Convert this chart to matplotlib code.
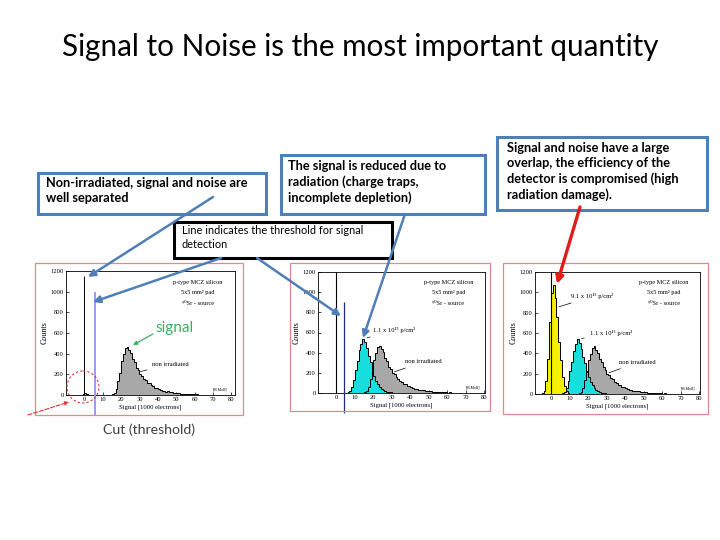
import numpy as np
import matplotlib.pyplot as plt
from matplotlib.patches import Rectangle, Circle

# ---- histogram data (counts per 1000-electron bin) ----
nonirr_edges = np.arange(15, 66)
nonirr_counts = [5, 22, 58, 135, 215, 330, 395, 455, 468, 435, 405, 345, 318, 262, 240,
                 200, 185, 155, 143, 120, 112, 92, 88, 72, 66, 55, 52, 43, 41, 33,
                 34, 26, 27, 20, 22, 15, 17, 12, 13, 9, 11, 7, 9, 5, 7, 4, 5, 3, 4, 2]

cyan_edges = np.arange(6, 32)
cyan_counts = [6, 22, 62, 128, 225, 318, 425, 488, 540, 505, 445, 362, 305, 225, 172,
               118, 88, 58, 42, 26, 20, 11, 9, 5, 4]

yellow_edges = np.arange(-5, 11)
yellow_counts = [6, 32, 125, 345, 705, 995, 1075, 940, 760, 515, 330, 165, 82, 28, 9]

noise_edges = np.arange(-2, 3)
noise_counts = [4, 14, 18, 8]

pedestal = [1150, 1200, 1200]          # black line at 0 in each panel
thresh_x = [5.8, 4.2]                  # cut lines (panel 1, panel 2)
thresh_top = [1000, 900]

title = "Signal to Noise is the most important quantity"
box_texts = [
    "Non-irradiated, signal and noise are\nwell separated",
    "The signal is reduced due to\nradiation (charge traps,\nincomplete depletion)",
    "Line indicates the threshold for signal\ndetection",
    "Signal and noise have a large\noverlap, the efficiency of the\ndetector is compromised (high\nradiation damage).",
]

W, H = 720, 540
BLUE = "#4f7fb8"
SERIF = ["Liberation Serif", "DejaVu Serif"]

fig = plt.figure(figsize=(7.2, 5.4), dpi=100)


def px_axes(l, t, r, b):
    return fig.add_axes([l / W, 1 - b / H, (r - l) / W, (b - t) / H])


def style_panel(ax, xlim):
    ax.set_xlim(*xlim)
    ax.set_ylim(0, 1200)
    ax.set_xticks(range(0, 81, 10))
    ax.set_yticks(range(0, 1201, 200))
    ax.tick_params(labelsize=4.7, length=2, width=0.5, direction="in", pad=1.5)
    for lab in ax.get_xticklabels() + ax.get_yticklabels():
        lab.set_fontfamily(SERIF)
    for s in ax.spines.values():
        s.set_linewidth(0.6)
    ax.set_xlabel("Signal [1000 electrons]", fontsize=4.8, family=SERIF, labelpad=1.5)
    ax.set_ylabel("Counts", fontsize=5.8, family=SERIF, labelpad=1.5)
    ax.text(0.78, 0.91, "p-type MCZ silicon", transform=ax.transAxes, fontsize=4.5,
            family=SERIF, ha="center", va="center")
    ax.text(0.78, 0.83, "5x5 mm² pad", transform=ax.transAxes, fontsize=4.5,
            family=SERIF, ha="center", va="center")
    ax.text(0.78, 0.74, "⁹⁰Sr - source", transform=ax.transAxes, fontsize=4.5,
            family=SERIF, ha="center", va="center")
    ax.text(74, 45, "[M.Moll]", fontsize=2.8, family=SERIF, ha="center")


def hists(ax, data):
    # fills first, then outlines so overlapping edges stay visible
    for edges, counts, color in data:
        ax.stairs(counts, edges, fill=True, color=color, zorder=2)
    for edges, counts, color in data:
        ax.stairs(counts, edges, color="black", lw=0.7, zorder=3)


def label(ax, txt, xy, xytext):
    ax.annotate(txt, xy=xy, xytext=xytext, fontsize=4.7, family=SERIF, va="center",
                arrowprops=dict(arrowstyle="-", lw=0.5, color="black"))


GRAY, CYAN, YELLOW = "#a8a8a8", "#19dede", "#f5f000"

# ---- panel 1 ----
ax1 = px_axes(66, 271, 235, 395)
style_panel(ax1, (-10, 82))
hists(ax1, [(noise_edges, noise_counts, GRAY), (nonirr_edges, nonirr_counts, GRAY)])
ax1.vlines(0, 0, pedestal[0], color="black", lw=0.7, zorder=4)
ax1.vlines(thresh_x[0], -190, thresh_top[0], color="#9a9af0", lw=1.4, zorder=5, clip_on=False)
label(ax1, "non irradiated", (29, 220), (37, 300))

# ---- panel 2 ----
ax2 = px_axes(318, 272, 485, 393)
style_panel(ax2, (-10, 80.5))
hists(ax2, [(nonirr_edges, nonirr_counts, GRAY), (cyan_edges, cyan_counts, CYAN)])
ax2.vlines(0, 0, pedestal[1], color="black", lw=0.8, zorder=4)
ax2.vlines(thresh_x[1], -200, thresh_top[1], color="#1c2a78", lw=0.9, zorder=5, clip_on=False)
label(ax2, "non irradiated", (30, 200), (37, 310))
label(ax2, "1.1 x 10¹⁵ p/cm²", (15, 540), (20, 620))

# ---- panel 3 ----
ax3 = px_axes(535, 272, 700, 394)
style_panel(ax3, (-8.6, 80.5))
hists(ax3, [(nonirr_edges, nonirr_counts, GRAY), (cyan_edges, cyan_counts, CYAN),
            (yellow_edges, yellow_counts, YELLOW)])
ax3.vlines(0, 0, pedestal[2], color="black", lw=0.8, zorder=4)
label(ax3, "non irradiated", (30, 200), (37, 310))
label(ax3, "1.1 x 10¹⁵ p/cm²", (15, 540), (21, 600))
label(ax3, "9.1 x 10¹⁵ p/cm²", (3, 850), (11, 960))

# ---- overlay in pixel coordinates ----
ov = fig.add_axes([0, 0, 1, 1], zorder=10)
ov.patch.set_alpha(0)
ov.set_xlim(0, W)
ov.set_ylim(H, 0)
ov.axis("off")

ov.text(360, 47, title, fontsize=21.3, family="Lato", ha="center", va="center")

for (l, t, r, b) in [(35, 263, 243, 415), (290, 263, 490, 411), (503, 263, 708, 414)]:
    ov.add_patch(Rectangle((l, t), r - l, b - t, fill=False, ec="#e08a8a", lw=0.9))

boxes = [((38, 173, 266, 214), (46, 177), True, BLUE),
         ((281, 155, 485, 214), (288, 160), True, BLUE),
         ((174, 222, 392, 258), (182, 225), False, "black"),
         ((497, 137, 707, 210), (507, 142), True, BLUE)]
for (l, t, r, b), (tx, ty), bold, ec in boxes:
    ov.add_patch(Rectangle((l, t), r - l, b - t, fc="white", ec=ec, lw=2.2, zorder=2))
for ((l, t, r, b), (tx, ty), bold, ec), txt in zip(boxes, box_texts):
    ov.text(tx, ty, txt, fontsize=9.2 if bold else 7.9, family="Lato",
            weight="bold" if bold else "normal", va="top", ha="left",
            linespacing=1.3, zorder=3)

blue_arrows = [((213, 197), (88, 277)), ((221, 258), (93, 302)),
               ((257, 258), (341, 316)), ((405, 214), (363, 338))]
for start, end in blue_arrows:
    ov.annotate("", xy=end, xytext=start,
                arrowprops=dict(arrowstyle="-|>", color=BLUE, lw=1.8,
                                mutation_scale=10, shrinkA=0, shrinkB=0), zorder=4)

ov.annotate("", xy=(557, 284), xytext=(580, 207),
            arrowprops=dict(arrowstyle="-|>", color="#e01c1c", lw=2.4,
                            mutation_scale=11, shrinkA=0, shrinkB=0), zorder=4)

ov.text(155, 328, "signal", fontsize=11, family="Lato", color="#3cb060", va="center")
ov.annotate("", xy=(133, 345), xytext=(153, 334),
            arrowprops=dict(arrowstyle="-|>", color="#3cb060", lw=0.9,
                            mutation_scale=6, shrinkA=0, shrinkB=0))

ov.add_patch(Circle((83, 387), 16, fill=False, ec="#e03030", lw=0.8, ls=(0, (2, 2))))
ov.annotate("", xy=(69, 402), xytext=(28, 415),
            arrowprops=dict(arrowstyle="-|>", color="#e03030", lw=0.8, ls="--",
                            mutation_scale=6, shrinkA=0, shrinkB=0))
ov.text(149, 430, "Cut (threshold)", fontsize=10.2, family="Lato", color="#404040",
        ha="center", va="center")

fig.savefig("out.png", dpi=100)
